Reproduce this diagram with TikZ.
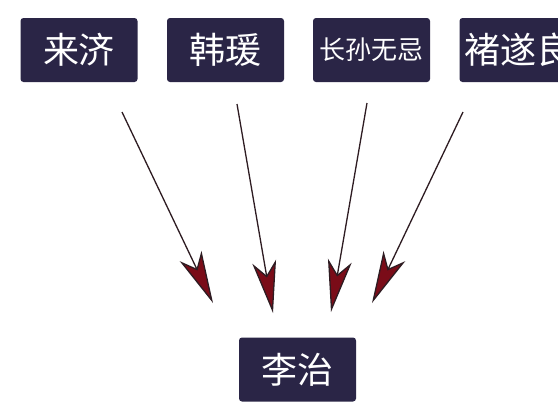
\documentclass[tikz,border=0pt]{standalone}
\usepackage{fontspec}
\newfontfamily\cjk{Noto Sans CJK SC}
\usetikzlibrary{arrows.meta}
\definecolor{boxnavy}{HTML}{2A2546}
\definecolor{headred}{HTML}{7A0C18}
\definecolor{shaftdark}{HTML}{2E1C22}

\begin{document}
\begin{tikzpicture}[x=1pt, y=-1pt,
    person/.style={fill=boxnavy, text=white, rounded corners=3pt, inner sep=0pt,
                 minimum width=117pt, minimum height=64pt, font=\cjk\fontsize{36}{36}\selectfont},
    link/.style={draw=shaftdark, line width=1.3pt,
                 -{Stealth[length=52pt, width=24pt, inset=14pt, fill=headred]}}]
            \clip (0, 0) rectangle (558, 416);
            \fill[white] (0, 0) rectangle (558, 416);

            \node[person] (laiji) at (79, 50) {来济};
            \node[person] (hanyuan) at (225.5, 50) {韩瑗};
            \node[person, font=\cjk\fontsize{26}{26}\selectfont] (zhangsun) at (371.5, 50) {长孙无忌};
            \node[person] (chu) at (518, 50) {褚遂良};

            \node[person] (lizhi) at (297.5, 369.5) {李治};

            \coordinate (s1) at (122, 112);
            \coordinate (t1) at (213, 303);
            \coordinate (s2) at (237, 104);
            \coordinate (t2) at (273, 313);
            \coordinate (s3) at (367, 103);
            \coordinate (t3) at (331, 312);
            \coordinate (s4) at (463, 112);
            \coordinate (t4) at (372, 303);

            \draw[link] (s1) -- (t1);
            \draw[link] (s2) -- (t2);
            \draw[link] (s3) -- (t3);
            \draw[link] (s4) -- (t4);
\end{tikzpicture}
\end{document}
